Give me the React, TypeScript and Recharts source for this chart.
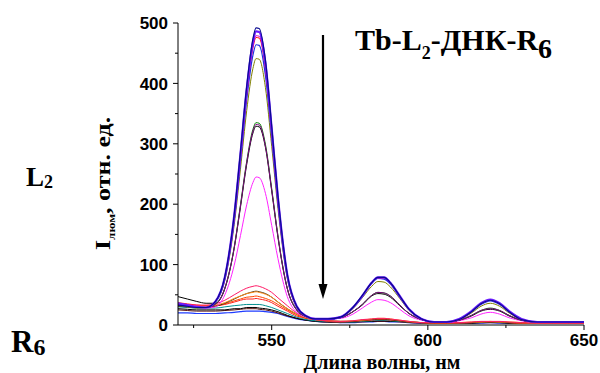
import React from 'react';
import { LineChart, Line, XAxis, YAxis } from 'recharts';

// wavelength grid, nm
const wavelengths = [520, 523, 526, 529, 532, 535, 538, 540, 542, 544, 545, 546, 548, 550, 552, 555, 558, 561, 564, 568, 572, 576, 579, 582, 584, 586, 588, 591, 594, 598, 602, 606, 610, 614, 617, 620, 623, 626, 630, 635, 640, 645, 650];

// high-intensity spectra (before DNA quenching)
const navy = [33, 31, 29, 29, 39, 80, 183, 287, 395, 474, 492, 491, 438, 329, 214, 84, 31, 15, 10, 10, 13, 29, 49, 70, 79, 79, 70, 48, 26, 10, 5, 5, 9, 22, 35, 41, 35, 22, 9, 5, 5, 5, 5];
const violet = [36, 33, 30, 29, 39, 79, 181, 283, 390, 468, 486, 485, 433, 325, 211, 83, 31, 15, 10, 10, 13, 29, 48, 70, 79, 79, 70, 48, 26, 10, 5, 5, 10, 23, 36, 42, 36, 23, 10, 5, 5, 5, 5];
const red = [34, 32, 30, 29, 39, 78, 177, 278, 382, 459, 476, 475, 424, 319, 207, 82, 30, 15, 10, 10, 13, 29, 48, 70, 78, 78, 69, 47, 26, 10, 5, 5, 9, 22, 35, 41, 35, 22, 9, 5, 5, 5, 5];
const magenta = [34, 32, 30, 29, 39, 79, 178, 279, 385, 462, 479, 478, 427, 321, 208, 82, 30, 15, 10, 10, 13, 29, 48, 69, 78, 78, 69, 47, 26, 10, 5, 5, 9, 22, 35, 41, 35, 22, 9, 5, 5, 5, 5];
const blue = [33, 31, 29, 29, 38, 77, 173, 271, 373, 447, 464, 463, 413, 311, 202, 80, 30, 15, 10, 10, 13, 29, 47, 69, 77, 76, 68, 46, 26, 10, 5, 5, 9, 22, 34, 40, 34, 22, 9, 5, 5, 5, 5];
const olive = [32, 30, 28, 29, 38, 74, 166, 258, 355, 425, 441, 440, 393, 296, 193, 77, 29, 14, 10, 10, 13, 27, 45, 64, 72, 71, 63, 44, 24, 10, 5, 5, 9, 20, 31, 36, 31, 20, 9, 5, 5, 5, 5];
const green = [34, 32, 30, 29, 35, 61, 129, 199, 271, 324, 335, 334, 299, 226, 148, 61, 25, 14, 10, 10, 12, 22, 34, 49, 54, 53, 48, 33, 19, 9, 5, 5, 8, 16, 24, 28, 24, 16, 8, 5, 5, 5, 5];
const purple = [33, 31, 29, 29, 34, 61, 128, 197, 269, 321, 332, 331, 296, 224, 147, 60, 25, 14, 10, 10, 12, 22, 34, 49, 54, 53, 48, 33, 19, 9, 5, 5, 8, 16, 24, 27, 24, 16, 8, 5, 5, 5, 5];
const black = [47, 43, 39, 36, 36, 60, 127, 195, 266, 318, 329, 328, 294, 222, 145, 60, 25, 14, 10, 10, 12, 22, 33, 48, 52, 51, 46, 32, 19, 9, 5, 5, 8, 15, 23, 26, 23, 15, 8, 5, 5, 5, 5];
const pink = [35, 33, 31, 28, 30, 50, 99, 148, 199, 236, 245, 244, 218, 165, 110, 47, 21, 13, 10, 10, 11, 18, 28, 38, 42, 41, 37, 26, 15, 8, 5, 4, 7, 12, 18, 21, 18, 12, 7, 4, 5, 5, 5];

// quenched spectra
const rose = [36, 34, 33, 33, 35, 41, 50, 56, 61, 64, 65, 64, 60, 54, 45, 32, 20, 14, 9, 7, 6, 7, 9, 10, 11, 11, 10, 8, 6, 4, 4, 4, 4, 5, 6, 6, 6, 5, 4, 3, 3, 3, 3];
const orange = [34, 32, 32, 31, 33, 37, 44, 48, 52, 54, 55, 54, 51, 46, 38, 27, 18, 12, 9, 7, 6, 7, 8, 10, 11, 11, 10, 8, 6, 4, 4, 4, 4, 5, 5, 6, 5, 5, 4, 3, 3, 3, 3];
const dark = [31, 30, 29, 29, 31, 36, 43, 48, 52, 55, 56, 55, 52, 46, 38, 27, 18, 12, 9, 7, 6, 6, 8, 9, 10, 10, 9, 7, 5, 4, 4, 4, 4, 4, 5, 5, 5, 4, 4, 3, 3, 3, 3];
const scarlet = [35, 33, 32, 32, 32, 35, 40, 43, 46, 47, 48, 47, 44, 40, 34, 25, 17, 11, 9, 7, 6, 6, 8, 9, 10, 10, 9, 7, 5, 4, 3, 3, 4, 4, 5, 5, 5, 4, 3, 3, 3, 3, 3];
const red2 = [37, 35, 33, 32, 32, 34, 38, 41, 43, 43, 44, 43, 41, 37, 31, 23, 15, 11, 9, 6, 5, 6, 7, 8, 9, 9, 8, 7, 5, 4, 3, 3, 3, 4, 5, 5, 5, 4, 3, 3, 3, 3, 3];
const teal = [30, 29, 28, 28, 28, 30, 32, 33, 34, 34, 34, 34, 32, 29, 25, 19, 13, 9, 7, 6, 5, 5, 6, 7, 8, 8, 7, 6, 5, 4, 3, 3, 3, 4, 4, 5, 4, 4, 3, 3, 3, 3, 3];
const black2 = [27, 26, 25, 25, 25, 25, 27, 27, 29, 29, 29, 28, 27, 25, 22, 16, 11, 8, 6, 5, 5, 5, 6, 6, 7, 7, 6, 6, 5, 4, 3, 3, 3, 3, 4, 4, 4, 3, 3, 3, 3, 3, 3];
const maroon = [25, 24, 23, 23, 23, 24, 25, 26, 27, 27, 27, 26, 25, 23, 20, 15, 11, 8, 6, 5, 4, 5, 5, 6, 6, 6, 6, 5, 4, 3, 3, 3, 3, 3, 4, 4, 4, 3, 3, 3, 3, 3, 3];
const blue2 = [20, 20, 19, 19, 19, 20, 21, 22, 23, 23, 23, 23, 22, 21, 19, 14, 10, 8, 6, 5, 4, 4, 5, 5, 6, 6, 5, 5, 4, 3, 3, 3, 3, 3, 3, 4, 3, 3, 3, 3, 3, 3, 3];

const xTicks = [525, 550, 575, 600, 625, 650];
const yTicks = [0, 50, 100, 150, 200, 250, 300, 350, 400, 450, 500];

// drawing order: quenched first, strongest last
const series = [
  { key: 'blue2', values: blue2, color: '#1f3cff', width: 1.2 },
  { key: 'maroon', values: maroon, color: '#5a1010', width: 1 },
  { key: 'black2', values: black2, color: '#000000', width: 1 },
  { key: 'teal', values: teal, color: '#009090', width: 1 },
  { key: 'red2', values: red2, color: '#ff2020', width: 1 },
  { key: 'scarlet', values: scarlet, color: '#ff4400', width: 1 },
  { key: 'dark', values: dark, color: '#3a2a10', width: 1 },
  { key: 'orange', values: orange, color: '#ff8c1a', width: 1 },
  { key: 'rose', values: rose, color: '#ff1a66', width: 1 },
  { key: 'pink', values: pink, color: '#ff22ff', width: 1 },
  { key: 'black', values: black, color: '#000000', width: 1 },
  { key: 'green', values: green, color: '#008000', width: 1 },
  { key: 'purple', values: purple, color: '#800080', width: 1 },
  { key: 'olive', values: olive, color: '#808000', width: 1 },
  { key: 'blue', values: blue, color: '#2030e0', width: 1.2 },
  { key: 'red', values: red, color: '#ff0000', width: 1 },
  { key: 'magenta', values: magenta, color: '#d000d0', width: 1 },
  { key: 'violet', values: violet, color: '#6a1bff', width: 2.2 },
  { key: 'navy', values: navy, color: '#0a0a90', width: 1.2 },
];

const rows = wavelengths.map((wl, i) => {
  const row: any = { wl };
  series.forEach(s => { row[s.key] = s.values[i]; });
  return row;
});

const sans = '"Liberation Sans", Arial, sans-serif';
const serif = '"Liberation Serif", "Times New Roman", serif';

const XTick = (props: any) => {
  const { x, y, payload } = props;
  const major = payload.value % 50 === 0;
  return (
    <g>
      <line x1={x} x2={x} y1={y} y2={y + (major ? 5 : 3)} stroke="#000" />
      {major && (
        <text x={x} y={y + 21} textAnchor="middle" fontFamily={sans} fontWeight="bold" fontSize={17} fill="#000">
          {payload.value}
        </text>
      )}
    </g>
  );
};

const YTick = (props: any) => {
  const { x, y, payload } = props;
  const major = payload.value % 100 === 0;
  return (
    <g>
      <line x1={x - (major ? 5 : 3)} x2={x} y1={y} y2={y} stroke="#000" />
      {major && (
        <text x={x - 10} y={y} dy="0.36em" textAnchor="end" fontFamily={sans} fontWeight="bold" fontSize={17} fill="#000">
          {payload.value}
        </text>
      )}
    </g>
  );
};

export default function App() {
  return (
    <div style={{ position: 'absolute', left: 0, top: 0, width: 600, height: 373, background: '#fff' }}>
      <LineChart width={600} height={373} data={rows} margin={{ top: 23, right: 16, bottom: 18, left: 138 }}>
        <XAxis
          dataKey="wl"
          type="number"
          domain={[520, 650]}
          ticks={xTicks}
          interval={0}
          height={30}
          tickSize={0}
          tickMargin={0}
          tickLine={false}
          axisLine={{ stroke: '#000' }}
          tick={<XTick />}
          allowDataOverflow
        />
        <YAxis
          type="number"
          domain={[0, 500]}
          ticks={yTicks}
          interval={0}
          width={40}
          tickSize={0}
          tickMargin={0}
          tickLine={false}
          axisLine={{ stroke: '#000' }}
          tick={<YTick />}
          allowDataOverflow
        />
        {series.map(s => (
          <Line
            key={s.key}
            dataKey={s.key}
            type="monotone"
            stroke={s.color}
            strokeWidth={s.width}
            dot={false}
            isAnimationActive={false}
          />
        ))}
      </LineChart>
      <svg width={600} height={373} style={{ position: 'absolute', left: 0, top: 0, pointerEvents: 'none' }}>
        <line x1={323} x2={323} y1={35} y2={288} stroke="#000" strokeWidth={2.2} />
        <polygon points="318.5,284 327.5,284 323,299" fill="#000" />
        <text x={355} y={50} fontFamily={serif} fontWeight="bold" fontSize={30} fill="#000">
          Tb-L<tspan fontSize={18} dy={9}>2</tspan>
          <tspan dy={-9}>-ДНК-R</tspan>
          <tspan fontSize={28} dy={8}>6</tspan>
        </text>
        <text x={26} y={186} fontFamily={serif} fontWeight="bold" fontSize={27} fill="#000">
          L<tspan fontSize={18} dy={2}>2</tspan>
        </text>
        <text x={11} y={352} fontFamily={serif} fontWeight="bold" fontSize={31} fill="#000">
          R<tspan fontSize={24} dy={3}>6</tspan>
        </text>
        <text x={382} y={369} textAnchor="middle" fontFamily={serif} fontWeight="bold" fontSize={20} fill="#000">
          Длина волны, нм
        </text>
        <text transform="translate(110,250) rotate(-90) scale(1.3,1)" fontFamily={serif} fontWeight="bold" fontSize={20} fill="#000">
          I<tspan fontSize={10} dy={5}>люм</tspan>
          <tspan dy={-5}>, отн. ед.</tspan>
        </text>
      </svg>
    </div>
  );
}
